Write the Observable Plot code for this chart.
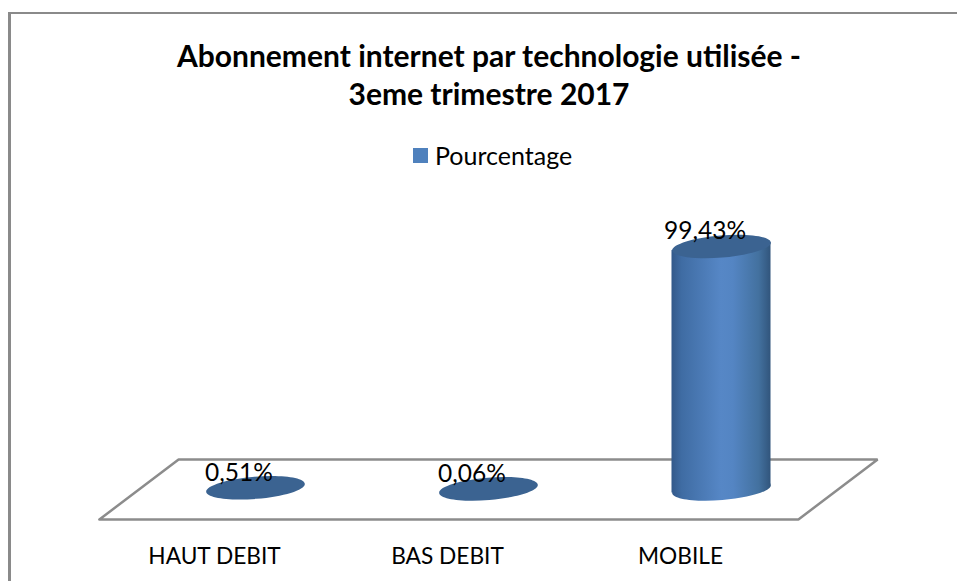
<!DOCTYPE html>
<html><head><meta charset="utf-8">
<script src="https://cdn.jsdelivr.net/npm/d3@7"></script>
<script src="https://cdn.jsdelivr.net/npm/@observablehq/plot@0.6"></script>
<style>
html,body{margin:0;padding:0;background:#fff;overflow:hidden}
#page{position:relative;width:957px;height:581px;font-family:Lato,sans-serif;color:#000}
#frame{position:absolute;left:8px;top:12px;right:0;bottom:0;border-left:3px solid #8a8a8a;border-top:2px solid #8a8a8a}
#title{position:absolute;left:0;width:978px;top:36px;text-align:center;font-weight:700;font-size:30px;line-height:38px}
#legend{position:absolute;left:413px;top:140px;font-size:25px;line-height:30px;display:flex;align-items:center;gap:7px}
#legend i{display:block;width:15px;height:15px;background:#4f81bd}
#chart{position:absolute;left:0;top:190px}
#chart svg{display:block;background:transparent}
</style></head><body>
<div id="page"><div id="frame"></div>
<div id="title">Abonnement internet par technologie utilisée -<br>3eme trimestre 2017</div>
<div id="legend"><i></i><span>Pourcentage</span></div>
<div id="chart"></div></div>
<script>
const categories = ["HAUT DEBIT", "BAS DEBIT", "MOBILE"];
const values = [0.51, 0.06, 99.43];
const labels = ["0,51%", "0,06%", "99,43%"];
const floorX = [-0.67, -0.33, 2.67, 2.33, -0.67];
const floorY = [-12.5, 12.1, 12.1, -12.5, -12.5];

const rows = categories.map((c, i) => ({i, c, v: values[i], label: labels[i]}));
const mobile = rows[2];
const halfWidth = 0.2125;   // half a cylinder, in category units
const tilt = 1.64;          // rise across the half width, in value units
const bodyRows = [
  {x: mobile.i - halfWidth, lo: -tilt, hi: mobile.v - tilt},
  {x: mobile.i + halfWidth, lo: tilt, hi: mobile.v + tilt}
];
const ellipse = {
  draw(ctx, size) {
    const rx = Math.sqrt(size / Math.PI), ry = rx * 0.225, a = -4.7 * Math.PI / 180;
    const k = 0.5523, c = Math.cos(a), s = Math.sin(a);
    const p = (x, y) => [x * c - y * s, x * s + y * c];
    ctx.moveTo(...p(rx, 0));
    ctx.bezierCurveTo(...p(rx, k * ry), ...p(k * rx, ry), ...p(0, ry));
    ctx.bezierCurveTo(...p(-k * rx, ry), ...p(-rx, k * ry), ...p(-rx, 0));
    ctx.bezierCurveTo(...p(-rx, -k * ry), ...p(-k * rx, -ry), ...p(0, -ry));
    ctx.bezierCurveTo(...p(k * rx, -ry), ...p(rx, -k * ry), ...p(rx, 0));
    ctx.closePath();
  }
};
const defs = () => {
  const svg = d3.create("svg:defs");
  const g = svg.append("linearGradient").attr("id", "cyl");
  [[0, "#33598a"], [0.1, "#3f6ca3"], [0.5, "#5687c6"], [0.62, "#5485c3"], [0.88, "#43719f"], [1, "#31557c"]]
    .forEach(([o, col]) => g.append("stop").attr("offset", o).attr("stop-color", col));
  return svg.node();
};

const plot = Plot.plot({
  width: 957, height: 391,
  marginTop: 0, marginRight: 0, marginBottom: 0, marginLeft: 0,
  x: {type: "linear", domain: [0, 2], range: [255, 721], axis: null},
  y: {type: "linear", domain: [0, 99.43], range: [298.5, 56], axis: null},
  marks: [
    defs,
    Plot.line(floorX.map((x, k) => ({x, y: floorY[k]})), {x: "x", y: "y", stroke: "#8c8c8c", strokeWidth: 2.5, strokeLinejoin: "miter"}),
    Plot.dot([mobile], {x: "i", y: 0, r: 49.5, symbol: ellipse, fill: "url(#cyl)", stroke: "none"}),
    Plot.areaY(bodyRows, {x: "x", y1: "lo", y2: "hi", fill: "url(#cyl)"}),
    Plot.dot(rows, {x: "i", y: "v", r: 49.5, symbol: ellipse, fill: "#3b6391", stroke: "none"}),
    Plot.text(rows, {x: "i", y: "v", text: "label", dx: -16.5, dy: -15, fontSize: 24.5, fill: "#000", fontFamily: "Lato, sans-serif"}),
    Plot.axisX({ticks: [0, 1, 2], tickFormat: (i) => categories[i], tickSize: 0, tickPadding: 0, dx: -41, dy: -34,
      anchor: "bottom", fontSize: 22.7, fontFamily: "Lato, sans-serif", color: "#000", label: null})
  ]
});
document.getElementById("chart").append(plot);
</script></body></html>
